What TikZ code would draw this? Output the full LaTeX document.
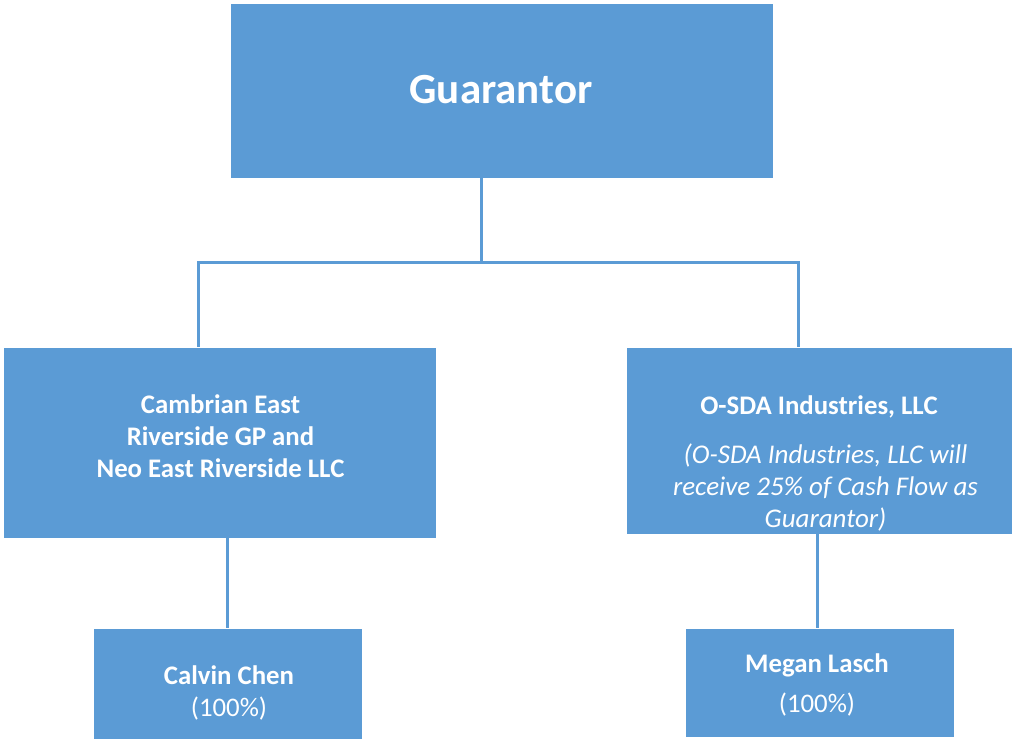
\documentclass[tikz,border=0pt]{standalone}
\usepackage{fontspec}
\setmainfont{Carlito}
\definecolor{boxblue}{HTML}{5B9BD5}
\tikzset{
  orgbox/.style={rectangle, fill=boxblue, draw=white, line width=0.8pt, inner sep=0pt},
  conn/.style={draw=boxblue, line width=3pt},
  boxtext/.style={text=white, align=center, inner sep=0pt, font=\fontsize{26.8}{32}\selectfont},
}
\begin{document}
\begin{tikzpicture}[x=1pt,y=-1pt]
\useasboundingbox (0,0) rectangle (1013,739);
% boxes
\node[orgbox, minimum width=543pt, minimum height=175pt] (g) at (501.5,90.5) {};
\node[orgbox, minimum width=433pt, minimum height=191pt] (m1) at (219.5,442.5) {};
\node[orgbox, minimum width=386pt, minimum height=187pt] (m2) at (819,440.5) {};
\node[orgbox, minimum width=269pt, minimum height=115pt] (b1) at (227.5,685.5) {};
\node[orgbox, minimum width=269pt, minimum height=109pt] (b2) at (819.5,682.5) {};
% texts
\node[boxtext, font=\fontsize{43}{50}\selectfont\bfseries] (gt) at (501,90) {Guarantor};
\node[boxtext, font=\fontsize{26.8}{32}\selectfont\bfseries] (m1t) at (220.5,436) {Cambrian East\\Riverside GP and\\Neo East Riverside LLC};
\node[boxtext, font=\fontsize{26.8}{32}\selectfont\bfseries] (m2t) at (819,407) {O-SDA Industries, LLC};
\node[boxtext, font=\fontsize{27}{32}\selectfont\itshape] (m2i) at (825.5,487) {(O-SDA Industries, LLC will\\receive 25\% of Cash Flow as\\Guarantor)};
\node[boxtext] (b1t) at (229,693) {\textbf{Calvin Chen}\\(100\%)};
\node[boxtext] (b2t) at (817,685) {\textbf{Megan Lasch}\\[8pt](100\%)};
% connectors
\coordinate (j) at (481,262);
\coordinate (jl) at (198,262);
\coordinate (jr) at (798,262);
\coordinate (cl) at (227,600);
\coordinate (cr) at (817,600);
\draw[conn] (j |- g.south) -- (j);
\draw[conn] (jl |- m1.north) -- (jl) -- (jr) -- (jr |- m2.north);
\draw[conn] (cl |- m1.south) -- (cl |- b1.north);
\draw[conn] (cr |- m2.south) -- (cr |- b2.north);
\end{tikzpicture}
\end{document}
